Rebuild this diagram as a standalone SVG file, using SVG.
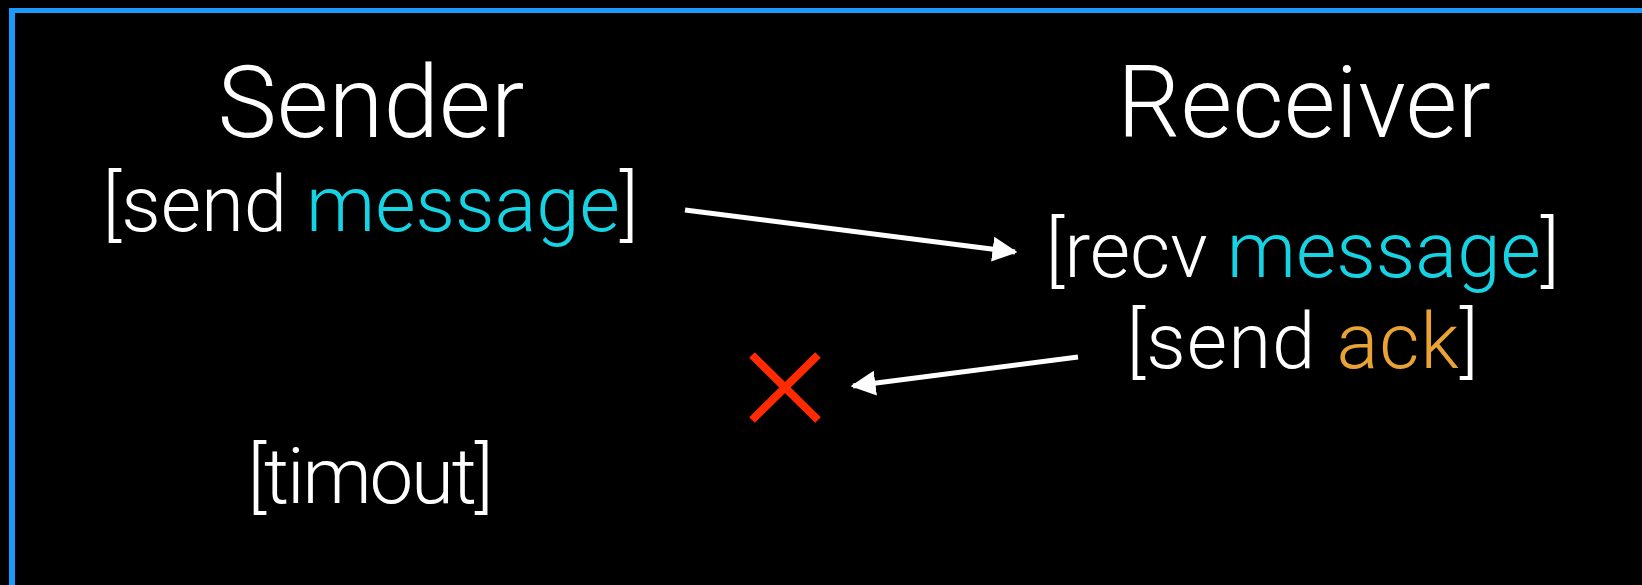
<svg xmlns="http://www.w3.org/2000/svg" width="1642" height="585" viewBox="0 0 1642 585">
  <defs>
    <style>
      .t { font-family: Roboto, "Liberation Sans", sans-serif; font-weight: 300; fill: #ffffff; text-anchor: middle; }
      .head { font-size: 100px; }
      .lbl { font-size: 78px; }
      .msg { fill: #16d3e3; }
      .ack { fill: #e9a234; }
      .conn { stroke: #ffffff; stroke-width: 5; fill: none; }
    </style>
    <marker id="arrow" viewBox="0 0 10 10" refX="9" refY="5" markerWidth="5" markerHeight="5" markerUnits="strokeWidth" orient="auto">
      <path d="M0,0 L10,5 L0,10 z" fill="#ffffff"/>
    </marker>
  </defs>

  <rect x="0" y="0" width="1642" height="585" fill="#000000"/>

  <!-- frame edges (top and left) -->
  <g id="frame" stroke="#1a9bfc">
    <line x1="9" y1="10.5" x2="1642" y2="10.5" stroke-width="5"/>
    <line x1="12" y1="8" x2="12" y2="585" stroke-width="6"/>
  </g>

  <g id="sender">
    <text class="t head" x="371" y="137">Sender</text>
    <text class="t lbl" x="370.5" y="231" textLength="536">[send <tspan class="msg">message</tspan>]</text>
    <text class="t lbl" x="370.5" y="503" textLength="246">[timout]</text>
  </g>

  <g id="receiver">
    <text class="t head" x="1304" y="137" textLength="374">Receiver</text>
    <text class="t lbl" x="1302.5" y="277" textLength="514">[recv <tspan class="msg">message</tspan>]</text>
    <text class="t lbl" x="1302.5" y="368" textLength="352">[send <tspan class="ack">ack</tspan>]</text>
  </g>

  <g id="lost">
    <path d="M752,355 L818,420 M818,355 L752,420" stroke="#ff2a00" stroke-width="8" fill="none"/>
  </g>

  <g id="connectors">
    <line class="conn" x1="685" y1="210" x2="1015" y2="252" marker-end="url(#arrow)"/>
    <line class="conn" x1="1078" y1="357" x2="853" y2="386" marker-end="url(#arrow)"/>
  </g>
</svg>
